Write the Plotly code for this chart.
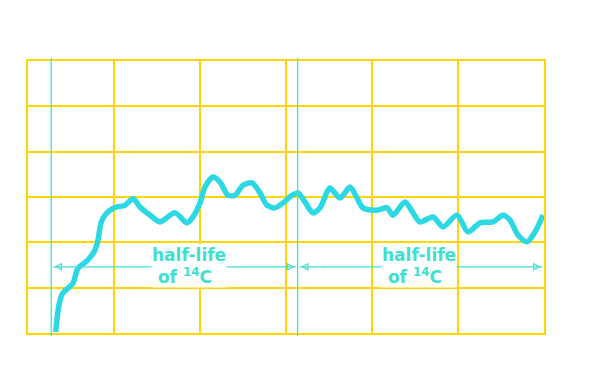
import plotly.graph_objects as go

# Years (x) and relative level (y)
years = [644, 721, 807, 930, 1047, 1163, 1372, 1558, 1628, 1698, 1791, 1953, 2070, 2256,
         2442, 2605, 2837, 3070, 3419, 3698, 3837, 4000, 4116, 4302, 4465, 4651, 4814,
         5000, 5209, 5395, 5558, 5744, 5930, 6140, 6279, 6442, 6628, 6791, 6953, 7023,
         7256, 7488, 7651, 7791, 8116, 8349, 8488, 8767, 8953, 9116, 9419, 9651, 9977,
         10233, 10512, 10814, 11047, 11209, 11395, 11605, 11791, 11977]
level = [0.2, 6.2, 8.8, 9.9, 11.0, 14.3, 15.9, 18.3, 20.5, 24.3, 26.0, 27.4, 27.8, 28.2,
         29.6, 27.8, 26.0, 24.5, 26.5, 24.3, 25.6, 28.7, 32.2, 34.4, 33.3, 30.4, 30.4,
         32.6, 33.1, 30.9, 28.2, 27.6, 28.7, 30.4, 30.9, 28.9, 26.5, 27.6, 31.1, 32.0,
         29.8, 32.2, 29.8, 27.6, 27.1, 27.6, 26.0, 28.9, 26.5, 24.5, 25.6, 23.4, 26.0,
         22.3, 24.3, 24.5, 26.0, 24.9, 21.6, 20.1, 22.3, 26.0]

half_life_marks = [540, 6270, 12000]
label_text = ["half-life", "&nbsp;of <sup>14</sup>C"]
label_x = [3733, 9093]
arrow_y = 14.6

GOLD = "#FFD700"
CURVE = "#2BD8E4"
TURQ = "#40E0D0"

fig = go.Figure()
fig.add_trace(go.Scatter(x=years, y=level, mode="lines",
                         line=dict(color=CURVE, width=5.5, shape="spline", smoothing=0.8),
                         hoverinfo="skip", showlegend=False))

shapes = []
for xv in half_life_marks[:2]:
    shapes.append(dict(type="line", xref="x", yref="paper", x0=xv, x1=xv,
                       y0=-0.011, y1=1.011, line=dict(color=TURQ, width=1.3)))

# double-headed arrows spanning each half-life
pad = 40
heads_x, heads_sym = [], []
for a, b in zip(half_life_marks[:-1], half_life_marks[1:]):
    shapes.append(dict(type="line", xref="x", yref="y", x0=a + pad, x1=b - pad,
                       y0=arrow_y, y1=arrow_y, line=dict(color=TURQ, width=1.2)))
    heads_x += [a + pad + 60, b - pad - 60]
    heads_sym += ["arrow-left-open", "arrow-right-open"]
fig.add_trace(go.Scatter(x=heads_x, y=[arrow_y] * len(heads_x), mode="markers",
                         marker=dict(symbol=heads_sym, size=6, color=TURQ,
                                     line=dict(color=TURQ, width=1.2)),
                         hoverinfo="skip", showlegend=False))

annotations = []
for xc in label_x:
    annotations.append(dict(x=xc, y=arrow_y + 0.2, xref="x", yref="y",
                            text="<br>".join(label_text), showarrow=False, align="left",
                            font=dict(family="DejaVu Sans", size=17, color=TURQ, weight="bold"),
                            bgcolor="white", borderpad=0, xanchor="center", yanchor="middle"))

fig.update_layout(
    width=614, height=381,
    margin=dict(l=28, r=70, t=61, b=48),
    paper_bgcolor="white", plot_bgcolor="white",
    shapes=shapes, annotations=annotations,
    xaxis=dict(range=[0, 12000], dtick=2000, showgrid=True, gridcolor=GOLD, gridwidth=1.5,
               showticklabels=False, ticks="", zeroline=False, showline=True, mirror=True,
               linecolor=GOLD, linewidth=1.5),
    yaxis=dict(range=[0, 60], dtick=10, showgrid=True, gridcolor=GOLD, gridwidth=1.5,
               showticklabels=False, ticks="", zeroline=False, showline=True, mirror=True,
               linecolor=GOLD, linewidth=1.5),
)

fig.write_html("out.html")
